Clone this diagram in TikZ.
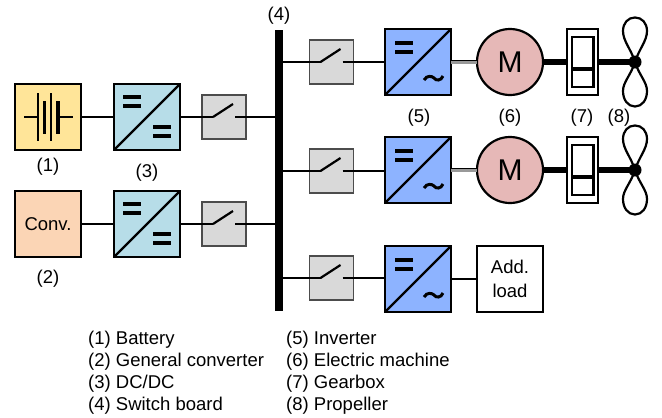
\documentclass[tikz,border=0pt]{standalone}
\usepackage{fontspec}
\setmainfont{Liberation Sans}
\usetikzlibrary{calc}
\definecolor{batcol}{HTML}{FFE599}
\definecolor{convcol}{HTML}{FBD5B5}
\definecolor{dccol}{HTML}{B7DDE8}
\definecolor{invcol}{HTML}{8DB3FF}
\definecolor{motcol}{HTML}{E6B8B7}
\definecolor{swcol}{HTML}{D9D9D9}
\tikzset{
 every node/.style={font=\fontsize{18.5}{24}\selectfont},
 sq/.style={draw=black,line width=2.2pt,minimum size=66pt,inner sep=0pt,outer sep=0pt},
 swbox/.style={draw=black!70,fill=swcol,line width=1.4pt,minimum size=44pt,inner sep=0pt,outer sep=0pt},
 wire/.style={line width=2.2pt},
 fat/.style={line width=5.5pt},
 gray link/.style={line width=3.4pt,draw=black!40},
 lbl/.style={inner sep=0pt,anchor=center},
 legend/.style={inner sep=0pt,anchor=west},
 sym/.style={line width=3.2pt},
 blade/.style={line width=2.2pt},
}
\newcommand{\sw}[3]{%
 \node[swbox] (#1) at (#2,#3) {};
 \coordinate (#1l) at (#2-11,#3);
 \coordinate (#1r) at (#2+11,#3);
 \coordinate (#1t) at (#2+9,#3-13);
}
\newcommand{\swblade}[1]{\draw[wire] (#1l) -- (#1t);}
\newcommand{\eqs}[3]{%
 \draw[sym] (#1+#2,#3) -- ++(18,0);
 \draw[sym] (#1+#2,#3+9) -- ++(18,0);
}
\newcommand{\dcdc}[3]{%
 \node[sq,fill=dccol] (#1) at (#2,#3) {};
 \draw[wire] (#1.south west) -- (#1.north east);
 \eqs{#2}{-24}{#3-20}
 \eqs{#2}{6}{#3+10}
}
\newcommand{\inv}[3]{%
 \node[sq,fill=invcol] (#1) at (#2,#3) {};
 \draw[wire] (#1.south west) -- (#1.north east);
 \eqs{#2}{-23}{#3-19}
 \draw[line width=3pt] (#2+6,#3+18) .. controls (#2+9,#3+13) and (#2+14,#3+14) .. (#2+16,#3+16) .. controls (#2+18,#3+19) and (#2+23,#3+19) .. (#2+25,#3+14);
}
\newcommand{\drive}[5]{% y, inverter, motor, gearbox, hub
 \node[circle,draw=black,fill=motcol,line width=2.2pt,minimum size=66pt,inner sep=0pt,outer sep=0pt] (#3) at (510,#1) {\fontsize{30}{32}\selectfont M};
 \node[draw=black,line width=2.2pt,fill=white,minimum width=31pt,minimum height=66pt,inner sep=0pt,outer sep=0pt] (#4) at (582.5,#1) {};
 \coordinate (#5) at (635,#1);
 \draw[gray link] ([yshift=-0.6pt]#2.east) -- ([yshift=-0.6pt]#3.west);
 \draw[line width=1pt] ([yshift=1.2pt]#2.east) -- ([yshift=1.2pt]#3.west);
 \draw[fat] (#3.east) -- (#4.west);
 \draw[fat] (#4.east) -- (#5);
 \draw[line width=2.2pt] (572,#1-25) rectangle (593.5,#1+25);
 \draw[line width=4pt] (572,#1+7) -- (593.5,#1+7);
 \draw[blade] (#5) .. controls (631,#1-13) and (623,#1-21) .. (623,#1-31) .. controls (623,#1-39) and (628,#1-44.5) .. (635,#1-44.5) .. controls (642,#1-44.5) and (647,#1-39) .. (647,#1-31) .. controls (647,#1-21) and (639,#1-13) .. (#5);
 \draw[blade] (#5) .. controls (631,#1+13) and (623,#1+20) .. (623,#1+29) .. controls (623,#1+38) and (628,#1+44.5) .. (635,#1+44.5) .. controls (642,#1+44.5) and (647,#1+38) .. (647,#1+29) .. controls (647,#1+20) and (639,#1+13) .. (#5);
 \fill (#5) circle (6.5);
}
\begin{document}
\begin{tikzpicture}[x=1pt,y=-1pt]
\useasboundingbox (0,0) rectangle (662,418);
% bus
\node[fill=black,minimum width=8.5pt,minimum height=281pt,inner sep=0pt,outer sep=0pt] (bus) at (279,170.5) {};
% left side
\node[sq,fill=batcol] (bat) at (48,117) {};
\node[sq,fill=convcol] (conv) at (48,224) {Conv.};
\dcdc{d1}{147}{117}
\dcdc{d2}{147}{224}
\sw{s1}{224}{117}
\sw{s2}{224}{224}
\draw[line width=1.6pt] (24,117) -- (38,117) (58,117) -- (72.5,117);
\draw[line width=1.6pt] (38,93) -- (38,141) (51,93) -- (51,141);
\draw[line width=3.8pt] (44.5,101) -- (44.5,134) (58,101) -- (58,134);
\draw[wire] (bat.east) -- (d1.west);
\draw[wire] (conv.east) -- (d2.west);
\draw[wire] (d1.east) -- (s1l); \swblade{s1}
\draw[wire] (s1r) -- (s1r -| bus.west);
\draw[wire] (d2.east) -- (s2l); \swblade{s2}
\draw[wire] (s2r) -- (s2r -| bus.west);
% right side
\sw{s3}{331.5}{62}
\sw{s4}{331.5}{171}
\sw{s5}{331.5}{278}
\inv{i1}{418}{62}
\inv{i2}{418}{170}
\inv{i3}{418}{279}
\draw[wire] (s3l -| bus.east) -- (s3l); \swblade{s3}
\draw[wire] (s4l -| bus.east) -- (s4l); \swblade{s4}
\draw[wire] (s5l -| bus.east) -- (s5l); \swblade{s5}
\draw[wire] (s3r) -- (s3r -| i1.west);
\draw[wire] (s4r) -- (s4r -| i2.west);
\draw[wire] (s5r) -- (s5r -| i3.west);
\drive{62}{i1}{m1}{g1}{p1}
\drive{170}{i2}{m2}{g2}{p2}
\node[sq,fill=white,align=center] (load) at (510,279) {Add.\\load};
\draw[wire] (i3.east) -- (load.west);
% labels
\node[lbl] (l4) at (279,15.5) {(4)};
\node[lbl] (l1) at (48,166.5) {(1)};
\node[lbl] (l3) at (147,172.5) {(3)};
\node[lbl] (l2) at (48,278.5) {(2)};
\node[lbl] (l5) at (419,117.5) {(5)};
\node[lbl] (l6) at (510,117.5) {(6)};
\node[lbl] (l7) at (582,117.5) {(7)};
\node[lbl] (l8) at (619,117.5) {(8)};
\node[legend] (a1) at (88,339.5) {(1) Battery};
\node[legend] (a2) at (88,361.5) {(2) General converter};
\node[legend] (a3) at (88,383.5) {(3) DC/DC};
\node[legend] (a4) at (88,405.5) {(4) Switch board};
\node[legend] (b5) at (286,339.5) {(5) Inverter};
\node[legend] (b6) at (286,361.5) {(6) Electric machine};
\node[legend] (b7) at (286,383.5) {(7) Gearbox};
\node[legend] (b8) at (286,405.5) {(8) Propeller};
\end{tikzpicture}
\end{document}
